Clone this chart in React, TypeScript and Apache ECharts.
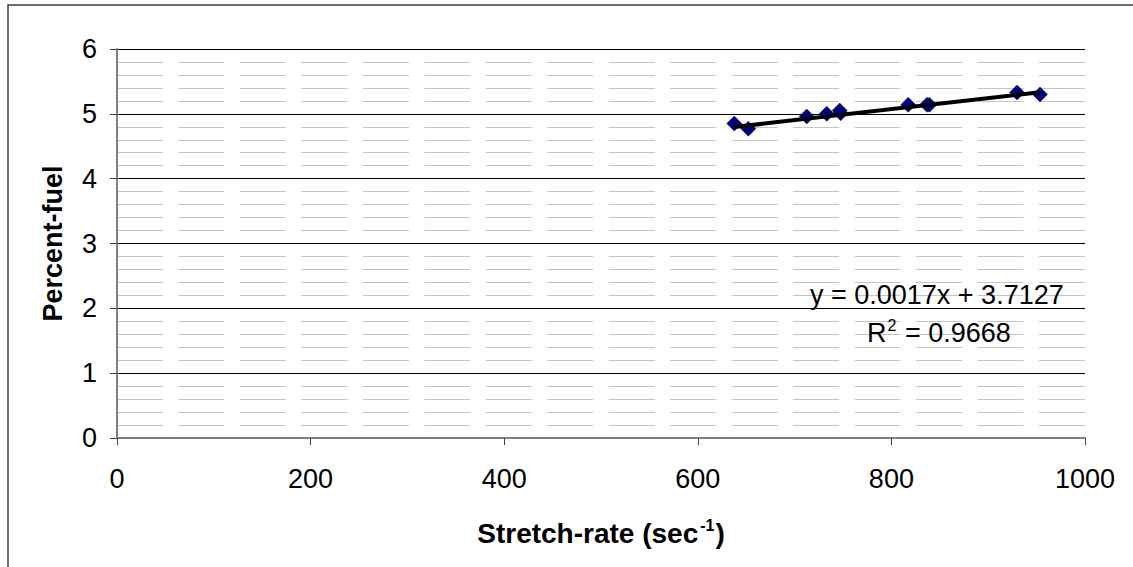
import React, { useEffect, useRef } from "react";
import * as echarts from "echarts";

const stretchRate = [637.7, 652.2, 712.5, 733.2, 746.6, 747.6, 817.4, 836.8, 839.2, 929.8, 953.5];
const percentFuel = [4.85, 4.77, 4.96, 5.0, 5.05, 5.01, 5.14, 5.14, 5.14, 5.33, 5.3];
const trendSlope = 0.0017;
const trendIntercept = 3.7127;
const rSquared = "0.9668";
const xTicks = [0, 200, 400, 600, 800, 1000];
const yTicks = [0, 1, 2, 3, 4, 5, 6];

export default function App() {
  const ref = useRef<HTMLDivElement>(null);
  useEffect(() => {
    if (!ref.current) return;
    const chart = echarts.init(ref.current, null, { renderer: "svg" });
    const xMin = Math.min(...stretchRate);
    const xMax = Math.max(...stretchRate);
    const trend = [
      [xMin, trendSlope * xMin + trendIntercept],
      [xMax, trendSlope * xMax + trendIntercept],
    ];
    const font = "Liberation Sans, Arial, sans-serif";
    chart.setOption({
      animation: false,
      backgroundColor: "#ffffff",
      grid: { left: 117, right: 48, top: 49, bottom: 129, containLabel: false },
      xAxis: {
        type: "value",
        min: xTicks[0],
        max: xTicks[xTicks.length - 1],
        interval: 200,
        axisLine: { show: true, lineStyle: { color: "#808080", width: 2 } },
        axisTick: { show: true, length: 7, lineStyle: { color: "#404040", width: 1 } },
        axisLabel: { fontSize: 27, color: "#000", fontFamily: font, margin: 27, formatter: (v: number) => String(v) },
        splitLine: { show: false },
        name: "{b|Stretch-rate (sec}{s|-1}{b|)}",
        nameLocation: "middle",
        nameGap: 79,
        nameTextStyle: {
          rich: {
            b: { fontSize: 28, fontWeight: "bold", fontFamily: font, color: "#000", lineHeight: 32 },
            s: { fontSize: 16, fontWeight: "bold", fontFamily: font, color: "#000", verticalAlign: "top", lineHeight: 32, padding: [0, 1, 10, 2] },
          },
        },
      },
      yAxis: {
        type: "value",
        min: yTicks[0],
        max: yTicks[yTicks.length - 1],
        interval: 1,
        axisLine: { show: true, onZero: false, lineStyle: { color: "#808080", width: 2 } },
        axisTick: { show: true, length: 7, lineStyle: { color: "#404040", width: 1 } },
        axisLabel: { fontSize: 27, color: "#000", fontFamily: font, margin: 20 },
        splitLine: { show: true, lineStyle: { color: "#000", width: 1 } },
        minorTick: { show: false, splitNumber: 5 },
        minorSplitLine: { show: true, lineStyle: { color: "#c4c4c4", width: 1, type: [46, 15.47] } },
        name: "Percent-fuel",
        nameLocation: "middle",
        nameGap: 51,
        nameRotate: 90,
        nameTextStyle: { fontSize: 27, fontWeight: "bold", fontFamily: font, color: "#000" },
      },
      series: [
        {
          type: "scatter",
          data: stretchRate.map((x, i) => [x, percentFuel[i]]),
          symbol: "diamond",
          symbolSize: 15,
          itemStyle: { color: "#000080", opacity: 1, borderColor: "#000060", borderWidth: 0.5 },
          z: 2,
        },
        {
          type: "line",
          data: trend,
          showSymbol: false,
          symbol: "none",
          lineStyle: { color: "#000", width: 4 },
          z: 3,
        },
      ],
      graphic: [
        {
          type: "rect",
          shape: { x: 8, y: 5, width: 1300, height: 800 },
          style: { fill: "none", stroke: "#404040", lineWidth: 1.5 },
          silent: true,
          z: 10,
        },
        {
          type: "text",
          left: 810,
          top: 281,
          style: {
            text: `y = ${trendSlope.toFixed(4)}x + ${trendIntercept.toFixed(4)}`,
            fontSize: 27,
            fontFamily: font,
            fill: "#000",
          },
          z: 10,
        },
        {
          type: "text",
          left: 867,
          top: 317,
          style: {
            text: `{n|R}{s|2}{n| = ${rSquared}}`,
            fontFamily: font,
            fill: "#000",
            rich: {
              n: { fontSize: 27, fontFamily: font, fill: "#000", lineHeight: 32 },
              s: { fontSize: 16, fontFamily: font, fill: "#000", verticalAlign: "top", lineHeight: 32, padding: [0, 1, 11, 1] },
            },
          },
          z: 10,
        },
      ],
    });
    return () => chart.dispose();
  }, []);
  return (
    <div
      ref={ref}
      style={{ position: "fixed", left: 0, top: 0, width: 1133, height: 567, background: "#fff" }}
    />
  );
}
